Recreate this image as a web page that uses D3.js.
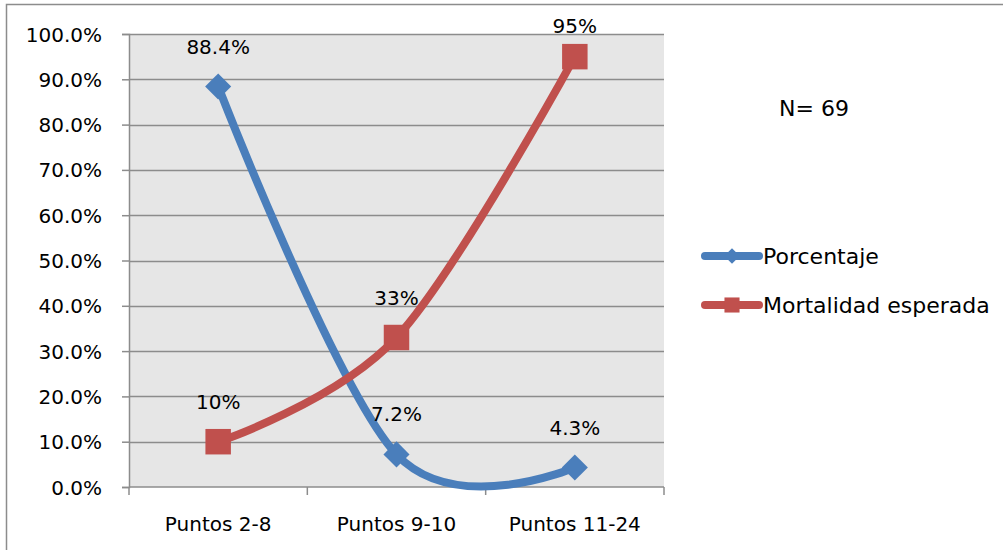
<!DOCTYPE html>
<html>
<head>
<meta charset="utf-8">
<script src="https://cdn.jsdelivr.net/npm/d3@7"></script>
<style>
  body { margin: 0; background: #fff; }
  text { font-family: "DejaVu Sans", "Liberation Sans", Arial, sans-serif; fill: #000; }
</style>
</head>
<body>
<svg id="chart" width="1003" height="550"></svg>
<script>
// chart data
let categories = ["Puntos 2-8", "Puntos 9-10", "Puntos 11-24"];
let porcentaje = [0.884, 0.072, 0.043];
let mortalidad = [0.10, 0.33, 0.95];
let porcentajeLabels = ["88.4%", "7.2%", "4.3%"];
let mortalidadLabels = ["10%", "33%", "95%"];
let yTicks = [0, 0.1, 0.2, 0.3, 0.4, 0.5, 0.6, 0.7, 0.8, 0.9, 1.0];
let note = "N= 69";

let blue = "#4a7ebb";
let red = "#c0504d";
let fontSize = '20px';
let margin = {top: 34, left: 129, right: 339, bottom: 63};
let width = 1003 - margin.left - margin.right;
let height = 550 - margin.top - margin.bottom;

let svg = d3.select('#chart');

// outer frame (only top and left edges are inside the picture)
svg.append('path')
    .attr('d', 'M6.5,550 V4.5 H1003')
    .attr('fill', 'none')
    .attr('stroke', '#8c8c8c')
    .attr('stroke-width', 1.5);

let graph = svg.append('g')
    .attr('transform', 'translate(' + margin.left + ',' + margin.top + ')');

let xScale = d3.scaleBand().domain(categories).range([0, width]);
let yScale = d3.scaleLinear().domain([0, 1]).range([height, 0]);
let cx = c => xScale(c) + xScale.bandwidth() / 2;

// plot background
graph.append('rect')
    .attr('width', width)
    .attr('height', height)
    .attr('fill', '#e6e6e6');

// grid lines
graph.append('g')
    .selectAll('line')
    .data(yTicks.slice(1))
    .enter()
    .append('line')
    .attr('x1', 0)
    .attr('x2', width)
    .attr('y1', d => Math.round(yScale(d)) + 0.5)
    .attr('y2', d => Math.round(yScale(d)) + 0.5)
    .attr('stroke', '#8c8c8c')
    .attr('stroke-width', 1.5);

// Y axis
let yAxis = graph.append('g')
    .call(d3.axisLeft(yScale)
        .tickValues(yTicks)
        .tickSize(7)
        .tickPadding(20)
        .tickFormat(d3.format('.1%')));
yAxis.select('.domain').attr('stroke', '#8c8c8c').attr('stroke-width', 1.5);
yAxis.selectAll('.tick line').attr('stroke', '#8c8c8c').attr('stroke-width', 1.5);
yAxis.selectAll('text')
    .style('font-size', fontSize)
    .style('font-family', '"DejaVu Sans", "Liberation Sans", Arial, sans-serif')
    .attr('dy', '0.35em');

// X axis
let xTickScale = d3.scaleLinear().domain([0, categories.length]).range([0, width]);
let xAxis = graph.append('g')
    .attr('transform', 'translate(0,' + height + ')');
xAxis.append('line')
    .attr('x1', 0).attr('x2', width)
    .attr('stroke', '#8c8c8c').attr('stroke-width', 1.5);
xAxis.selectAll('line.tick')
    .data(d3.range(categories.length + 1))
    .enter()
    .append('line')
    .attr('class', 'tick')
    .attr('x1', d => xTickScale(d)).attr('x2', d => xTickScale(d))
    .attr('y1', 0).attr('y2', 8)
    .attr('stroke', '#8c8c8c').attr('stroke-width', 1.5);
xAxis.selectAll('text')
    .data(categories)
    .enter()
    .append('text')
    .attr('x', d => cx(d))
    .attr('y', 37)
    .attr('dy', '0.35em')
    .attr('text-anchor', 'middle')
    .style('font-size', fontSize)
    .text(d => d);

// smoothed lines
let line = d3.line()
    .x((d, i) => cx(categories[i]))
    .y(d => yScale(d))
    .curve(d3.curveCatmullRom.alpha(0));

// diamond = square turned 45 degrees (Excel style)
let series = [
    {name: "Porcentaje", values: porcentaje, labels: porcentajeLabels, color: blue, size: 340, rotate: 45},
    {name: "Mortalidad esperada", values: mortalidad, labels: mortalidadLabels, color: red, size: 650, rotate: 0}
];

series.forEach(s => {
    graph.append('path')
        .attr('d', line(s.values))
        .attr('fill', 'none')
        .attr('stroke', s.color)
        .attr('stroke-width', 8)
        .attr('stroke-linecap', 'round');
    graph.append('g')
        .selectAll('path')
        .data(s.values)
        .enter()
        .append('path')
        .attr('d', d3.symbol().type(d3.symbolSquare).size(s.size))
        .attr('transform', (d, i) => 'translate(' + cx(categories[i]) + ',' + yScale(d) + ') rotate(' + s.rotate + ')')
        .attr('fill', s.color);
    // labels sit above the point, but stay inside the chart frame
    graph.append('g')
        .selectAll('text')
        .data(s.values)
        .enter()
        .append('text')
        .attr('x', (d, i) => cx(categories[i]))
        .attr('y', d => Math.max(yScale(d) - 40, -8))
        .attr('dy', '0.35em')
        .attr('text-anchor', 'middle')
        .style('font-size', fontSize)
        .text((d, i) => s.labels[i]);
});

// legend
let legend = svg.append('g')
    .attr('transform', 'translate(702,256)');
let lg = legend.selectAll('g')
    .data(series)
    .enter()
    .append('g')
    .attr('transform', (d, i) => 'translate(0,' + (i * 49) + ')');
lg.append('line')
    .attr('x1', 3).attr('x2', 57)
    .attr('stroke', d => d.color)
    .attr('stroke-width', 8)
    .attr('stroke-linecap', 'round');
lg.append('path')
    .attr('d', d => d3.symbol().type(d3.symbolSquare).size(d.size * 0.35)())
    .attr('transform', d => 'translate(30,0) rotate(' + d.rotate + ')')
    .attr('fill', d => d.color);
lg.append('text')
    .attr('x', 61)
    .attr('dy', '0.35em')
    .style('font-size', '22px')
    .text(d => d.name);

// sample size note
svg.append('text')
    .attr('x', 779)
    .attr('y', 108)
    .attr('dy', '0.35em')
    .style('font-size', '22px')
    .text(note);
</script>
</body>
</html>
